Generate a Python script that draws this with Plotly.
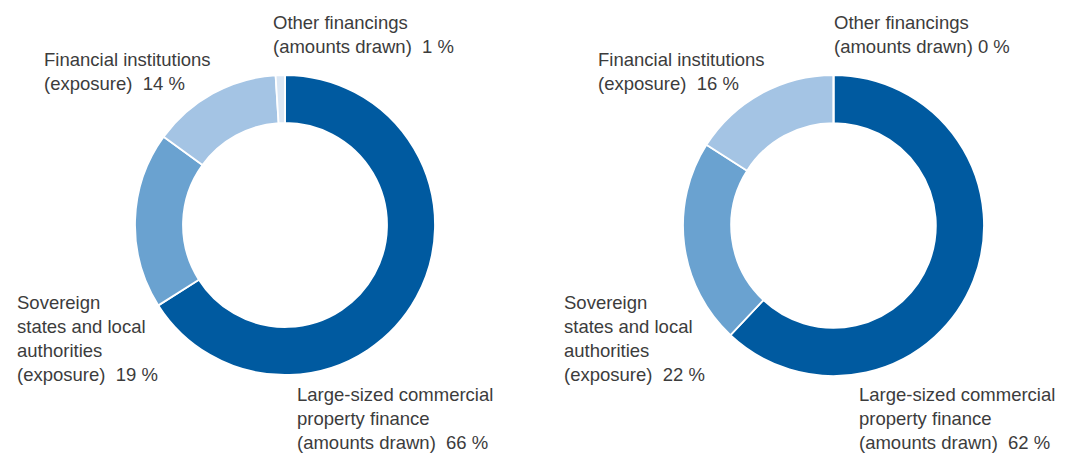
import plotly.graph_objects as go

# ---- data ----
categories = [
    "Large-sized commercial property finance (amounts drawn)",
    "Sovereign states and local authorities (exposure)",
    "Financial institutions (exposure)",
    "Other financings (amounts drawn)",
]
label_lines = [
    ["Large-sized commercial", "property finance", "(amounts drawn)"],
    ["Sovereign", "states and local", "authorities", "(exposure)"],
    ["Financial institutions", "(exposure)"],
    ["Other financings", "(amounts drawn)"],
]
left_values = [66, 19, 14, 1]
right_values = [62, 22, 16, 0]
colors = ["#005aa0", "#6aa2d0", "#a4c4e4", "#dbe7f4"]

# the page body has an 8px margin; layout coordinates below are screen px
OFF = 8
W, H = 1075 - OFF, 455 - OFF
FONT = dict(family="Liberation Sans, Arial, sans-serif", size=18.5, color="#3c3c3c")


def px_x(x):
    return (x - OFF) / W


def px_y(y):
    return 1 - (y - OFF) / H


fig = go.Figure()

pie_boxes = [(135, 435, 75, 375), (683, 984, 75, 376)]
for vals, (x0, x1, y0, y1) in zip([left_values, right_values], pie_boxes):
    fig.add_trace(go.Pie(
        labels=categories, values=vals, sort=False, direction="clockwise",
        rotation=0, hole=0.68, textinfo="none", showlegend=False,
        marker=dict(colors=colors, line=dict(color="white", width=1.8)),
        domain=dict(x=[px_x(x0), px_x(x1)], y=[px_y(y1), px_y(y0)]),
    ))

# annotation anchor positions (left x, top y in screen px) per category, per chart
label_pos = [
    [(296, 383), (16, 291), (43, 48), (272, 11)],
    [(858, 383), (563, 291), (597, 48), (833, 11)],
]
seps = [["\u00a0\u00a0"] * 4, ["\u00a0\u00a0", "\u00a0\u00a0", "\u00a0\u00a0", " "]]

for vals, positions, sp in zip([left_values, right_values], label_pos, seps):
    for i, (lines, v) in enumerate(zip(label_lines, vals)):
        txt = "<br>".join(lines[:-1] + [lines[-1] + sp[i] + f"{v} %"])
        x, y = positions[i]
        fig.add_annotation(
            text=txt, xref="paper", yref="paper", x=px_x(x), y=px_y(y),
            xanchor="left", yanchor="top", align="left", showarrow=False,
            font=FONT, borderpad=0,
        )

fig.update_layout(
    width=W, height=H, margin=dict(l=0, r=0, t=0, b=0),
    paper_bgcolor="white", plot_bgcolor="white",
)

fig.write_html("out.html")
